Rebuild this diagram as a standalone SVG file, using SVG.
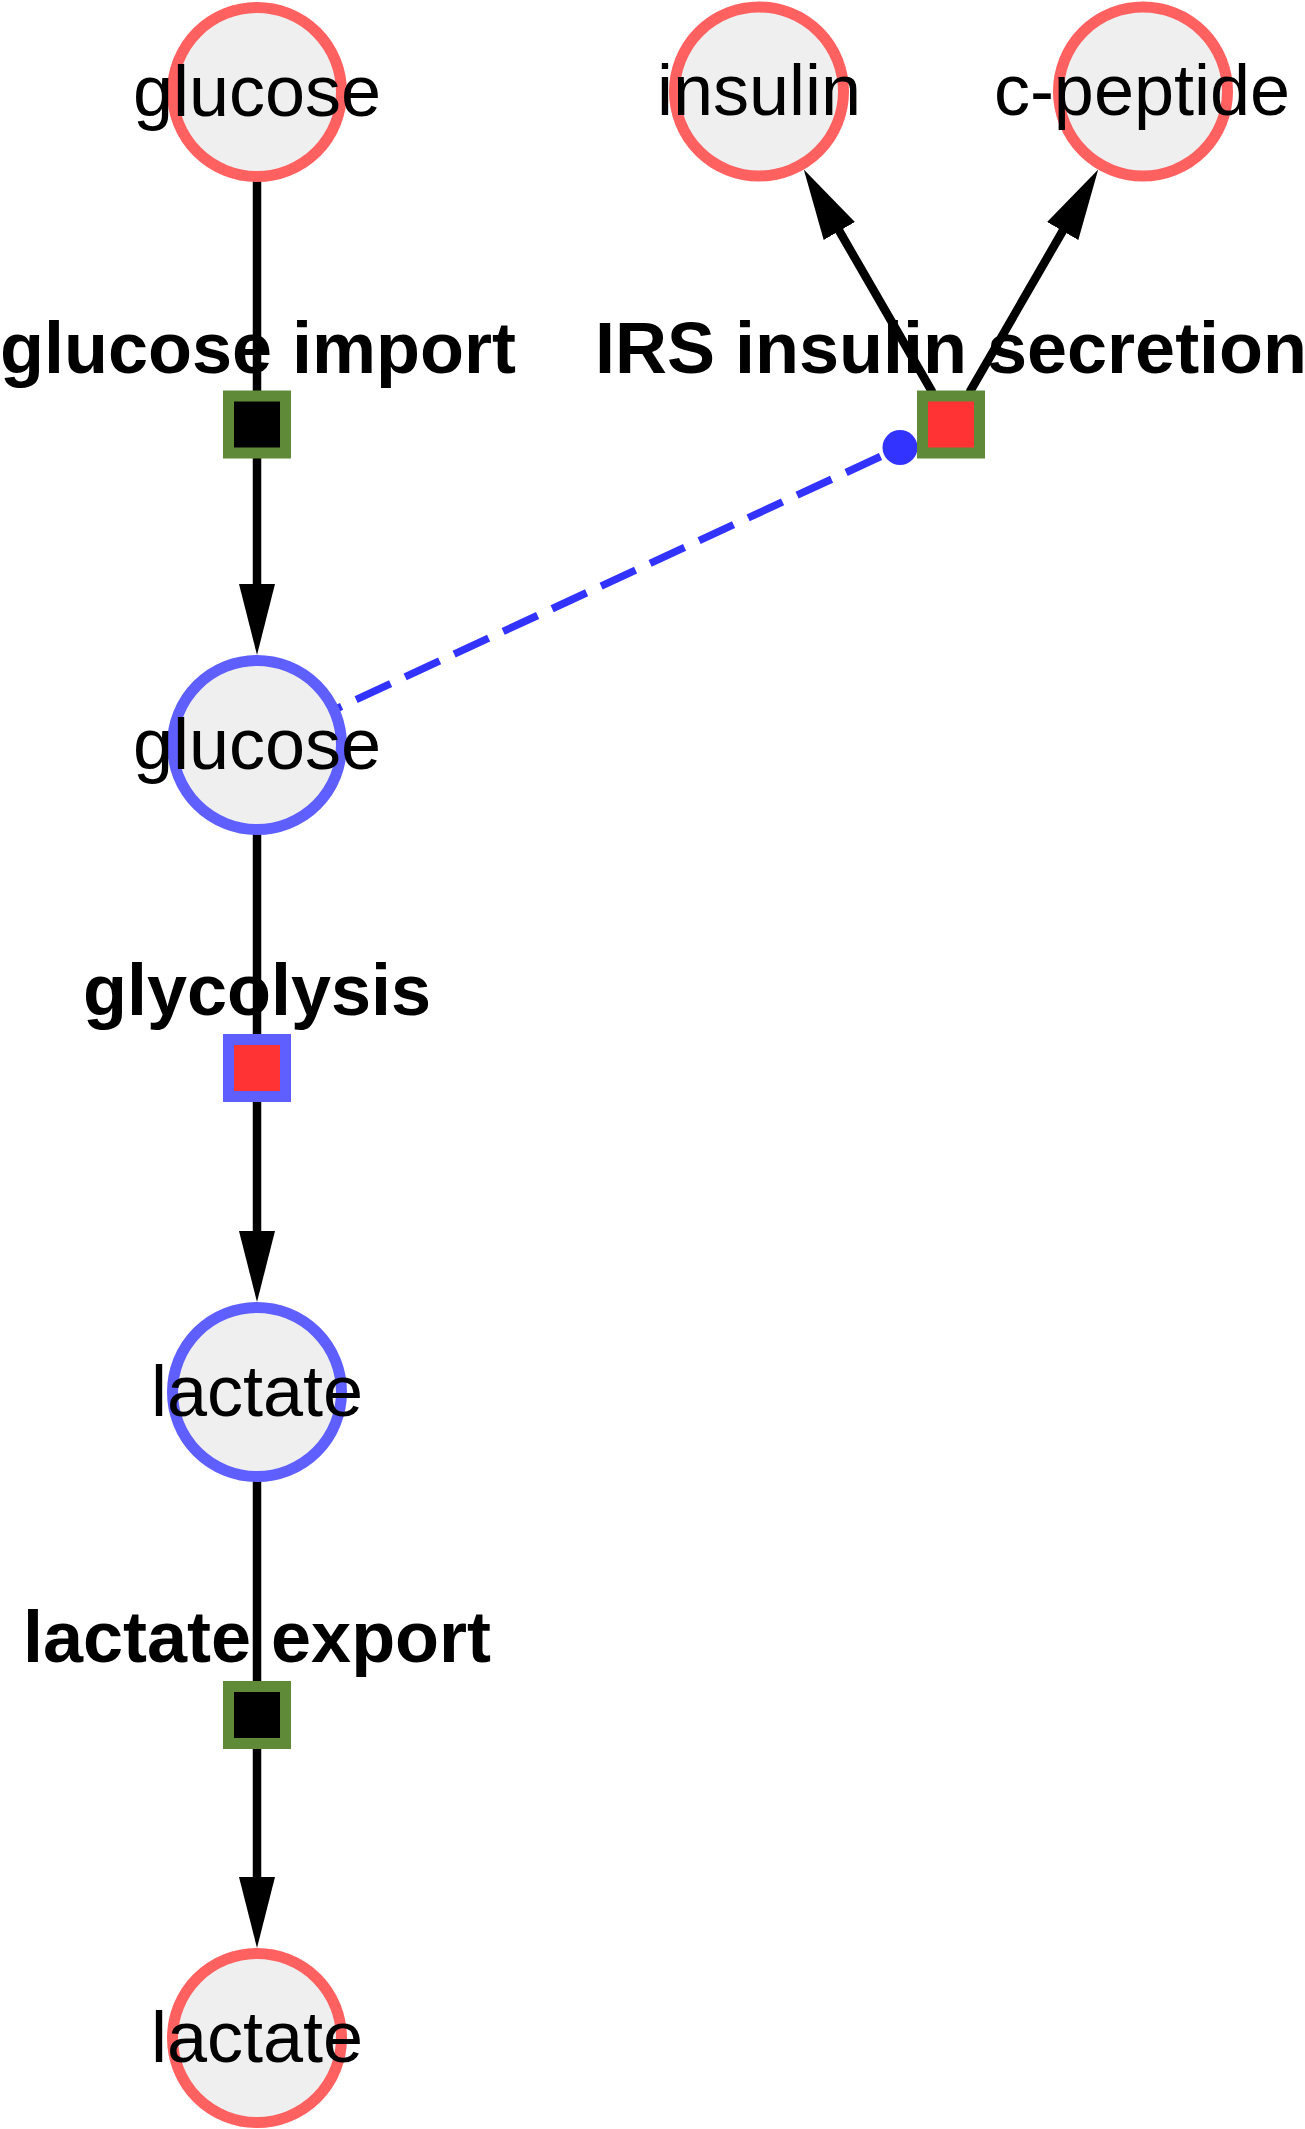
<svg xmlns="http://www.w3.org/2000/svg" width="1305" height="2129" viewBox="0 0 1305 2129">
<style>
.bg{fill:#ffffff}
.sv{fill:#efefef;stroke-width:11}
.red{stroke:#ff6060}
.blue{stroke:#5f5fff}
.lbl{font-family:"Liberation Sans",Arial,sans-serif;font-size:72px;fill:#000;text-anchor:middle}
.plbl{font-family:"Liberation Sans",Arial,sans-serif;font-size:72px;font-weight:bold;fill:#000;text-anchor:middle}
.proc{stroke-width:11}
.edge{stroke:#000;stroke-width:8.5;fill:none;stroke-linecap:round}
.cat{stroke:#3333ff;stroke-width:7.5;fill:none;stroke-dasharray:38 16;stroke-dashoffset:34}
</style>
<defs>
<marker id="arrow" markerUnits="userSpaceOnUse" markerWidth="72" markerHeight="36" refX="0" refY="18" orient="auto" viewBox="0 0 72 36">
<path d="M0,0 L71,18 L0,36 Z" fill="#000"/>
</marker>
</defs>
<rect class="bg" x="0" y="0" width="1305" height="2129"/>
<g id="connectors">
<line class="edge" x1="257" y1="182" x2="257" y2="391"/>
<line class="edge" x1="257" y1="458" x2="257" y2="584" marker-end="url(#arrow)"/>
<line class="edge" x1="257" y1="835" x2="257" y2="1034"/>
<line class="edge" x1="257" y1="1102" x2="257" y2="1231" marker-end="url(#arrow)"/>
<line class="edge" x1="257" y1="1482" x2="257" y2="1681"/>
<line class="edge" x1="257" y1="1749" x2="257" y2="1877" marker-end="url(#arrow)"/>
<line class="edge" x1="931.7" y1="391" x2="839.3" y2="231" marker-end="url(#arrow)"/>
<line class="edge" x1="970.3" y1="391" x2="1062.7" y2="231" marker-end="url(#arrow)"/>
<line class="cat" x1="338" y1="708" x2="900" y2="447.5"/>
<circle cx="900" cy="447.5" r="17.5" fill="#3333ff"/>
</g>
<g id="glucose_ext">
<circle class="sv red" cx="257" cy="92" r="84.5"/>
<text class="lbl" x="257" y="116">glucose</text>
</g>
<g id="insulin">
<circle class="sv red" cx="759" cy="91.5" r="84.5"/>
<text class="lbl" x="759" y="115">insulin</text>
</g>
<g id="cpeptide">
<circle class="sv red" cx="1143" cy="91.5" r="84.5"/>
<text class="lbl" x="1142" y="115">c-peptide</text>
</g>
<g id="glucose_import">
<rect class="proc" x="228.5" y="396" width="57" height="57" fill="#000" stroke="#5f8a38"/>
<text class="plbl" x="258" y="373">glucose import</text>
</g>
<g id="irs_insulin_secretion">
<rect class="proc" x="922.5" y="396" width="57" height="57" fill="#ff3333" stroke="#5f8a38"/>
<text class="plbl" x="951" y="373">IRS insulin secretion</text>
</g>
<g id="glucose_int">
<circle class="sv blue" cx="257" cy="745" r="84.5"/>
<text class="lbl" x="257" y="769">glucose</text>
</g>
<g id="glycolysis">
<rect class="proc" x="228.5" y="1039.5" width="57" height="57" fill="#ff3333" stroke="#5f5fff"/>
<text class="plbl" x="257" y="1015">glycolysis</text>
</g>
<g id="lactate_int">
<circle class="sv blue" cx="257" cy="1392" r="84.5"/>
<text class="lbl" x="257" y="1416">lactate</text>
</g>
<g id="lactate_export">
<rect class="proc" x="228.5" y="1686.5" width="57" height="57" fill="#000" stroke="#5f8a38"/>
<text class="plbl" x="257" y="1662">lactate export</text>
</g>
<g id="lactate_ext">
<circle class="sv red" cx="257" cy="2038" r="84.5"/>
<text class="lbl" x="257" y="2062">lactate</text>
</g>
</svg>
